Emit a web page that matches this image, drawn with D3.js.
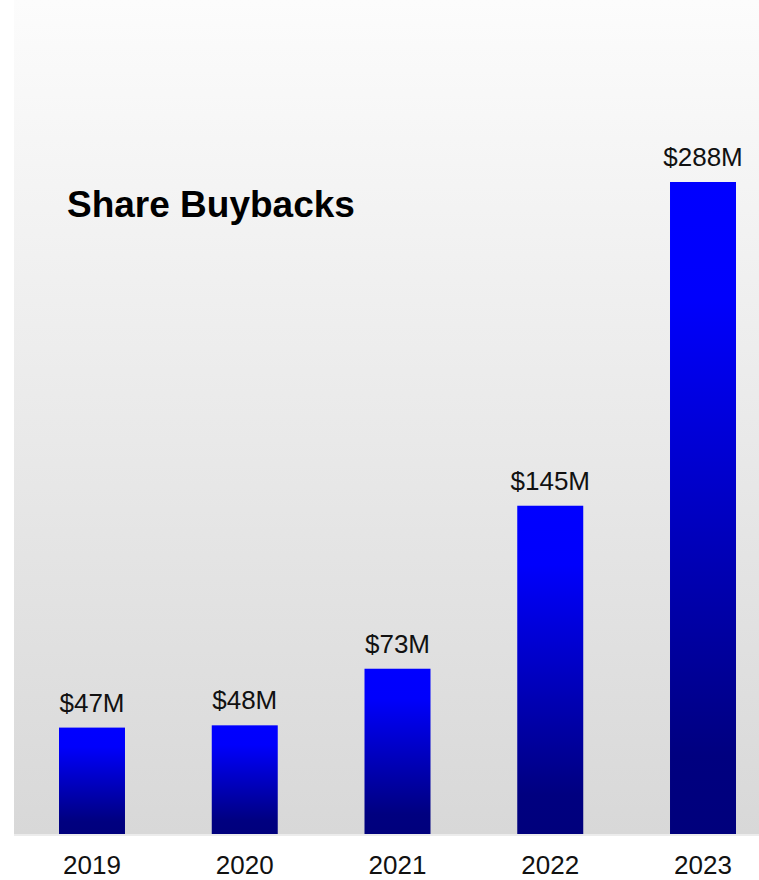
<!DOCTYPE html>
<html>
<head>
<meta charset="utf-8">
<script src="https://cdn.jsdelivr.net/npm/d3@7"></script>
<style>
  html, body { margin: 0; padding: 0; background: #ffffff; }
  svg { display: block; font-family: "Liberation Sans", Arial, Helvetica, sans-serif; }
</style>
</head>
<body>
<div id="chart"></div>
<script>
// Share buybacks by year, in millions of dollars
const years = ["2019", "2020", "2021", "2022", "2023"];
const buybacks = [47, 48, 73, 145, 288];
const valueLabels = ["$47M", "$48M", "$73M", "$145M", "$288M"];
const chartTitle = "Share Buybacks";

const width = 759, height = 880;
const plot = { left: 14, right: 781, top: 0, bottom: 834 };

const svg = d3.select("#chart").append("svg")
  .attr("width", width)
  .attr("height", height);

const defs = svg.append("defs");

// Plot background: near-white at the top fading to light grey
const bgGrad = defs.append("linearGradient")
  .attr("id", "bgGrad").attr("x1", 0).attr("y1", 0).attr("x2", 0).attr("y2", 1);
bgGrad.append("stop").attr("offset", "0%").attr("stop-color", "#fcfcfc");
bgGrad.append("stop").attr("offset", "100%").attr("stop-color", "#d8d8d8");

// Bars: bright blue on top deepening to navy at the base
const barGrad = defs.append("linearGradient")
  .attr("id", "barGrad").attr("x1", 0).attr("y1", 0).attr("x2", 0).attr("y2", 1);
barGrad.append("stop").attr("offset", "0%").attr("stop-color", "#0000ff");
barGrad.append("stop").attr("offset", "18%").attr("stop-color", "#0000fc");
barGrad.append("stop").attr("offset", "88%").attr("stop-color", "#000080");
barGrad.append("stop").attr("offset", "100%").attr("stop-color", "#00007c");

svg.append("rect")
  .attr("x", plot.left).attr("y", plot.top)
  .attr("width", plot.right - plot.left)
  .attr("height", plot.bottom - plot.top)
  .attr("fill", "url(#bgGrad)");

// faint shadow under the plot area
svg.append("rect")
  .attr("x", plot.left).attr("y", plot.bottom)
  .attr("width", plot.right - plot.left).attr("height", 2)
  .attr("fill", "#ececec");

const x = d3.scaleBand()
  .domain(years)
  .range([plot.left, plot.right])
  .paddingInner(0.568)
  .paddingOuter(0.2946);

const y = d3.scaleLinear()
  .domain([0, d3.max(buybacks)])
  .range([plot.bottom, 182]);

const data = years.map((yr, i) => ({ year: yr, value: buybacks[i], label: valueLabels[i] }));

svg.append("g").selectAll("rect")
  .data(data)
  .join("rect")
  .attr("x", d => x(d.year))
  .attr("y", d => y(d.value))
  .attr("width", x.bandwidth())
  .attr("height", d => y(0) - y(d.value))
  .attr("fill", "url(#barGrad)");

svg.append("g").selectAll("text")
  .data(data)
  .join("text")
  .attr("x", d => x(d.year) + x.bandwidth() / 2)
  .attr("y", d => y(d.value) - 16)
  .attr("text-anchor", "middle")
  .attr("font-size", 26)
  .attr("fill", "#111111")
  .text(d => d.label);

// Year axis, no domain line or ticks
const xAxis = svg.append("g")
  .attr("transform", `translate(0,${plot.bottom})`)
  .call(d3.axisBottom(x).tickSize(0).tickPadding(21.5));
xAxis.select(".domain").remove();
xAxis.selectAll("text")
  .attr("font-size", 26)
  .attr("font-family", "\"Liberation Sans\", Arial, Helvetica, sans-serif")
  .attr("fill", "#111111");

svg.append("text")
  .attr("x", 67)
  .attr("y", 217)
  .attr("font-size", 37)
  .attr("font-weight", "bold")
  .attr("fill", "#000000")
  .text(chartTitle);
</script>
</body>
</html>
